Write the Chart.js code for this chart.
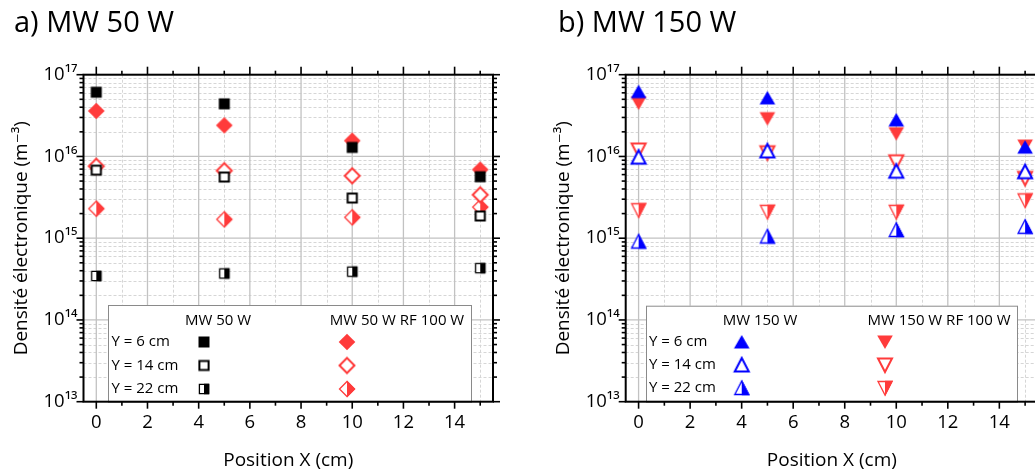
<!DOCTYPE html>
<html>
<head>
<meta charset="utf-8">
<script src="https://cdn.jsdelivr.net/npm/chart.js@4.4.0/dist/chart.umd.min.js"></script>
<style>
html, body { margin: 0; padding: 0; overflow: hidden; background: #fff; }
#wrap { position: relative; width: 1035px; height: 474px; overflow: hidden; }
.panel { position: absolute; top: 0; width: 540px; height: 474px; }
</style>
</head>
<body>
<div id="wrap">
  <div class="panel" style="left:0"><canvas id="chartA" width="540" height="474"></canvas></div>
  <div class="panel" style="left:540px"><canvas id="chartB" width="540" height="474"></canvas></div>
</div>
<script>
// Data (electron density, m^-3)
const positions = [0, 5, 10, 15];
const rowLabels = ['Y = 6 cm', 'Y = 14 cm', 'Y = 22 cm'];

const mw50_y6 = [6.1e16, 4.4e16, 1.29e16, 5.65e15];
const mw50_y14 = [6.8e15, 5.6e15, 3.1e15, 1.87e15];
const mw50_y22 = [3.45e14, 3.7e14, 3.9e14, 4.3e14];
const mw50rf_y6 = [3.6e16, 2.4e16, 1.56e16, 6.9e15];
const mw50rf_y14 = [7.6e15, 6.7e15, 5.8e15, 3.4e15];
const mw50rf_y22 = [2.3e15, 1.7e15, 1.8e15, 2.4e15];

const mw150_y6 = [6.2e16, 5.2e16, 2.8e16, 1.3e16];
const mw150_y14 = [9.8e15, 1.17e16, 6.6e15, 6.5e15];
const mw150_y22 = [9.1e14, 1.05e15, 1.26e15, 1.38e15];
const mw150rf_y6 = [4.5e16, 2.9e16, 1.9e16, 1.34e16];
const mw150rf_y14 = [1.2e16, 1.11e16, 8.6e15, 5.4e15];
const mw150rf_y22 = [2.2e15, 2.1e15, 2.1e15, 2.9e15];

// Axis ticks
const xTickValues = [0, 2, 4, 6, 8, 10, 12, 14];
const xMinorValues = [1, 3, 5, 7, 9, 11, 13, 15];
const yDecades = [1e13, 1e14, 1e15, 1e16, 1e17];

const RED = '#ff3b3b';
const BLUE = '#0000ff';
const BLACK = '#000000';
const FONT = '"Open Sans", "DejaVu Sans", sans-serif';

Chart.defaults.font.family = FONT;
Chart.defaults.color = '#000';

// Build marker images (full, open, half-filled)
function makeMarker(shape, color, fill) {
    const size = 22;
    const c = document.createElement('canvas');
    c.width = size; c.height = size;
    const g = c.getContext('2d');
    const m = size / 2;
    let pts;
    if (shape === 'square') {
        const h = fill === 'full' ? 5.5 : 4.6;
        pts = [[m - h, m - h], [m + h, m - h], [m + h, m + h], [m - h, m + h]];
    } else if (shape === 'diamond') {
        const h = fill === 'full' ? 8.3 : 7.5;
        pts = [[m, m - h], [m + h, m], [m, m + h], [m - h, m]];
    } else if (shape === 'up') {
        const w = fill === 'full' ? 7.8 : 7;
        pts = [[m, m - 7], [m + w, m + 6.5], [m - w, m + 6.5]];
    } else {
        const w = fill === 'full' ? 7.8 : 7;
        pts = [[m - w, m - 6.5], [m + w, m - 6.5], [m, m + 7]];
    }
    const path = () => {
        g.beginPath();
        pts.forEach((p, i) => i ? g.lineTo(p[0], p[1]) : g.moveTo(p[0], p[1]));
        g.closePath();
    };
    if (fill === 'full') {
        path(); g.fillStyle = color; g.fill();
    } else if (fill === 'open') {
        path(); g.fillStyle = '#fff'; g.fill();
        g.lineWidth = 2; g.strokeStyle = color; g.lineJoin = 'miter'; g.stroke();
    } else {
        path(); g.fillStyle = '#fff'; g.fill();
        g.lineWidth = 1.3; g.strokeStyle = color; g.stroke();
        g.save();
        g.beginPath(); g.rect(m, 0, m, size); g.clip();
        path(); g.fillStyle = color; g.fill();
        g.lineWidth = 1.3; g.stroke();
        g.restore();
    }
    return c;
}

const mk = {
    sqFull: makeMarker('square', BLACK, 'full'),
    sqOpen: makeMarker('square', BLACK, 'open'),
    sqHalf: makeMarker('square', BLACK, 'half'),
    diFull: makeMarker('diamond', RED, 'full'),
    diOpen: makeMarker('diamond', RED, 'open'),
    diHalf: makeMarker('diamond', RED, 'half'),
    upFull: makeMarker('up', BLUE, 'full'),
    upOpen: makeMarker('up', BLUE, 'open'),
    upHalf: makeMarker('up', BLUE, 'half'),
    dnFull: makeMarker('down', RED, 'full'),
    dnOpen: makeMarker('down', RED, 'open'),
    dnHalf: makeMarker('down', RED, 'half')
};

function series(label, values, marker) {
    return {
        label: label,
        data: positions.map((x, i) => ({ x: x, y: values[i] })),
        pointStyle: marker,
        pointRadius: 8,
        showLine: false
    };
}

const SUP = '⁰¹²³⁴⁵⁶⁷⁸⁹';
function powLabel(v) {
    const e = Math.round(Math.log10(v));
    return '10' + String(e).split('').map(d => SUP[+d]).join('');
}

// Grid, frame, tick marks, legend and panel title
const decor = {
    id: 'decor',
    beforeDatasetsDraw(chart, args, opts) {
        const { ctx, chartArea: a, scales: { x, y } } = chart;
        ctx.save();
        ctx.beginPath();
        ctx.rect(a.left, a.top, a.right - a.left, a.bottom - a.top);
        ctx.clip();
        const vline = (px) => { ctx.beginPath(); ctx.moveTo(px, a.top); ctx.lineTo(px, a.bottom); ctx.stroke(); };
        const hline = (py) => { ctx.beginPath(); ctx.moveTo(a.left, py); ctx.lineTo(a.right, py); ctx.stroke(); };
        // minor dashed grid
        ctx.strokeStyle = '#d6d6d6';
        ctx.lineWidth = 1;
        ctx.setLineDash([3, 2]);
        xMinorValues.forEach(v => vline(Math.round(x.getPixelForValue(v)) + 0.5));
        yDecades.slice(0, -1).forEach(d => {
            for (let k = 2; k <= 9; k++) hline(Math.round(y.getPixelForValue(d * k)) + 0.5);
        });
        // major solid grid
        ctx.setLineDash([]);
        ctx.strokeStyle = '#c2c2c2';
        ctx.lineWidth = 1.3;
        xTickValues.forEach(v => vline(x.getPixelForValue(v)));
        yDecades.forEach(v => hline(y.getPixelForValue(v)));
        ctx.restore();
    },
    afterDraw(chart, args, opts) {
        const { ctx, chartArea: a, scales: { x, y } } = chart;
        ctx.save();

        // legend box
        const L = opts.legend;
        ctx.fillStyle = '#fff';
        ctx.fillRect(L.box[0], L.box[1], L.box[2] - L.box[0], L.box[3] - L.box[1]);
        ctx.strokeStyle = '#8a8a8a';
        ctx.lineWidth = 1;
        ctx.strokeRect(L.box[0] + 0.5, L.box[1] + 0.5, L.box[2] - L.box[0], L.box[3] - L.box[1]);
        ctx.fillStyle = '#000';
        ctx.font = '15px ' + FONT;
        ctx.textBaseline = 'middle';
        ctx.textAlign = 'center';
        ctx.fillText(L.headers[0], L.cols[0], L.headerY);
        ctx.fillText(L.headers[1], L.cols[1], L.headerY);
        ctx.textAlign = 'left';
        rowLabels.forEach((t, i) => {
            ctx.fillText(t, L.textX, L.rows[i]);
            const m1 = L.markers[0][i], m2 = L.markers[1][i];
            ctx.drawImage(m1, L.cols2[0] - m1.width / 2, L.rows[i] - m1.height / 2);
            ctx.drawImage(m2, L.cols2[1] - m2.width / 2, L.rows[i] - m2.height / 2);
        });

        // frame
        ctx.strokeStyle = '#000';
        ctx.lineWidth = 2;
        ctx.strokeRect(a.left, a.top, a.right - a.left, a.bottom - a.top);

        // tick marks (outward)
        ctx.lineWidth = 1.6;
        const seg = (x1, y1, x2, y2) => { ctx.beginPath(); ctx.moveTo(x1, y1); ctx.lineTo(x2, y2); ctx.stroke(); };
        xTickValues.forEach(v => {
            const px = x.getPixelForValue(v);
            seg(px, a.bottom, px, a.bottom + 7);
            seg(px, a.top, px, a.top - 8);
        });
        xMinorValues.forEach(v => {
            const px = x.getPixelForValue(v);
            seg(px, a.bottom, px, a.bottom + 4);
            seg(px, a.top, px, a.top - 4);
        });
        yDecades.forEach(d => {
            const py = y.getPixelForValue(d);
            seg(a.left, py, a.left - 7, py);
            seg(a.right, py, a.right + 7, py);
            if (d < 1e17) {
                for (let k = 2; k <= 9; k++) {
                    const pm = y.getPixelForValue(d * k);
                    seg(a.left, pm, a.left - 4, pm);
                    seg(a.right, pm, a.right + 4, pm);
                }
            }
        });

        // panel title
        ctx.fillStyle = '#000';
        ctx.font = '29px ' + FONT;
        ctx.textAlign = 'left';
        ctx.textBaseline = 'alphabetic';
        ctx.fillText(opts.title, opts.titleX, 32);
        ctx.restore();
    }
};

function makeChart(id, datasets, geo, decorOpts) {
    return new Chart(document.getElementById(id), {
        type: 'scatter',
        data: { datasets: datasets },
        plugins: [decor],
        options: {
            responsive: false,
            animation: false,
            layout: { padding: { top: geo.top, right: 540 - geo.right, left: 0, bottom: 0 } },
            plugins: {
                legend: { display: false },
                tooltip: { enabled: false },
                decor: decorOpts
            },
            scales: {
                x: {
                    type: 'linear',
                    min: -0.5,
                    max: 15.5,
                    afterBuildTicks: s => { s.ticks = xTickValues.map(v => ({ value: v })); },
                    afterFit: s => { s.height = 474 - geo.bottom; },
                    grid: { display: false, drawTicks: false },
                    border: { display: false },
                    ticks: { font: { size: 18.5 }, color: '#000', padding: 10, maxRotation: 0, autoSkip: false },
                    title: { display: true, text: 'Position X (cm)', font: { size: 19 }, color: '#000', padding: { top: 0, bottom: 2 } }
                },
                y: {
                    type: 'logarithmic',
                    min: 1e13,
                    max: 1e17,
                    afterBuildTicks: s => { s.ticks = yDecades.map(v => ({ value: v })); },
                    afterFit: s => { s.width = geo.left; },
                    grid: { display: false, drawTicks: false },
                    border: { display: false },
                    ticks: { font: { size: 18.5 }, color: '#000', padding: 6, autoSkip: false, callback: v => powLabel(v) },
                    title: { display: true, text: 'Densité électronique (m⁻³)', font: { size: 19 }, color: '#000', padding: { top: geo.ytitle, bottom: 0 } }
                }
            }
        }
    });
}

makeChart('chartA', [
    series('MW 50 W Y = 6 cm', mw50_y6, mk.sqFull),
    series('MW 50 W Y = 14 cm', mw50_y14, mk.sqOpen),
    series('MW 50 W Y = 22 cm', mw50_y22, mk.sqHalf),
    series('MW 50 W RF 100 W Y = 6 cm', mw50rf_y6, mk.diFull),
    series('MW 50 W RF 100 W Y = 14 cm', mw50rf_y14, mk.diOpen),
    series('MW 50 W RF 100 W Y = 22 cm', mw50rf_y22, mk.diHalf)
], { left: 83.5, right: 493, top: 74.7, bottom: 401.7, ytitle: 10 }, {
    title: 'a) MW 50 W',
    titleX: 14,
    legend: {
        box: [108, 305, 471, 401.7],
        headers: ['MW 50 W', 'MW 50 W RF 100 W'],
        cols: [218, 397],
        cols2: [204, 347],
        headerY: 321,
        textX: 111.5,
        rows: [342, 365.5, 389],
        markers: [[mk.sqFull, mk.sqOpen, mk.sqHalf], [mk.diFull, mk.diOpen, mk.diHalf]]
    }
});

makeChart('chartB', [
    series('MW 150 W Y = 6 cm', mw150_y6, mk.upFull),
    series('MW 150 W Y = 14 cm', mw150_y14, mk.upOpen),
    series('MW 150 W Y = 22 cm', mw150_y22, mk.upHalf),
    series('MW 150 W RF 100 W Y = 6 cm', mw150rf_y6, mk.dnFull),
    series('MW 150 W RF 100 W Y = 14 cm', mw150rf_y14, mk.dnOpen),
    series('MW 150 W RF 100 W Y = 22 cm', mw150rf_y22, mk.dnHalf)
], { left: 85.7, right: 498, top: 74.7, bottom: 401.7, ytitle: 12 }, {
    title: 'b) MW 150 W',
    titleX: 18,
    legend: {
        box: [106, 305.7, 477, 401.7],
        headers: ['MW 150 W', 'MW 150 W RF 100 W'],
        cols: [220, 399],
        cols2: [201.7, 345],
        headerY: 321,
        textX: 109,
        rows: [342, 365, 388],
        markers: [[mk.upFull, mk.upOpen, mk.upHalf], [mk.dnFull, mk.dnOpen, mk.dnHalf]]
    }
});
</script>
</body>
</html>
